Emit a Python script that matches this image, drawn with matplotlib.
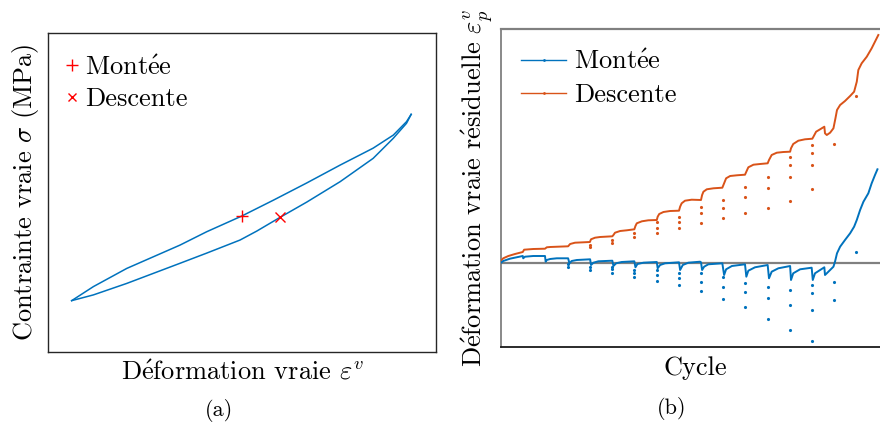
import matplotlib
matplotlib.use("Agg")
import matplotlib.pyplot as plt
from matplotlib.lines import Line2D

plt.rcParams['font.family'] = ['cmr10', 'DejaVu Serif']
plt.rcParams['mathtext.fontset'] = 'cm'
plt.rcParams['axes.formatter.use_mathtext'] = True

# ---------------- (a) hysteresis loop (arbitrary units) ----------------
strain_up = [0.061, 0.117, 0.203, 0.340, 0.409, 0.499, 0.581, 0.667, 0.753, 0.838, 0.890, 0.924, 0.936]
stress_up = [0.161, 0.205, 0.262, 0.335, 0.377, 0.426, 0.476, 0.530, 0.586, 0.639, 0.680, 0.722, 0.745]
strain_down = [0.936, 0.924, 0.890, 0.838, 0.753, 0.667, 0.598, 0.538, 0.495, 0.409, 0.340, 0.203, 0.117, 0.061]
stress_down = [0.745, 0.717, 0.670, 0.607, 0.534, 0.470, 0.422, 0.379, 0.351, 0.310, 0.278, 0.215, 0.179, 0.161]
point_montee = (0.499, 0.426)
point_descente = (0.598, 0.422)

# ---------------- (b) residual strain vs cycle ----------------
cyc_desc = [0, 10, 33, 63, 98, 104, 145, 198, 206, 221, 302, 311, 333, 400,
            405, 423, 446, 501, 506, 513, 536, 566, 600, 605, 611, 634, 663, 701,
            705, 712, 731, 761, 801, 806, 813, 828, 858, 900, 905, 911, 926, 956, 996,
            1004, 1013, 1031, 1061, 1098, 1104, 1113, 1136, 1166, 1200, 1206, 1218, 1241,
            1271, 1301, 1305, 1315, 1338, 1368, 1401, 1406, 1418, 1436, 1455, 1458, 1466,
            1481, 1496, 1505, 1512, 1526, 1548, 1571, 1589, 1601, 1608, 1623, 1646, 1668, 1698]
eps_desc = [0.02, 0.044, 0.067, 0.087, 0.107, 0.13, 0.137, 0.14, 0.154, 0.157, 0.164, 0.187, 0.2, 0.207,
            0.234, 0.25, 0.257, 0.264, 0.277, 0.30, 0.317, 0.324, 0.334, 0.367, 0.394, 0.414, 0.424, 0.427,
            0.46, 0.487, 0.507, 0.517, 0.52, 0.56, 0.594, 0.62, 0.63, 0.627, 0.677, 0.71, 0.734, 0.744, 0.75,
            0.794, 0.844, 0.867, 0.874, 0.88, 0.91, 0.954, 0.98, 0.987, 0.994, 1.027, 1.077, 1.10,
            1.107, 1.11, 1.144, 1.187, 1.22, 1.234, 1.24, 1.26, 1.31, 1.334, 1.36, 1.294, 1.277,
            1.30, 1.344, 1.444, 1.527, 1.577, 1.617, 1.667, 1.71, 1.81, 1.927, 1.994, 2.06, 2.144, 2.277]
cyc_desc_drop = [400, 400, 501, 501, 600, 600, 701, 701, 701, 801, 801, 801, 900, 900, 900,
                 999, 999, 999, 1100, 1100, 1100, 1202, 1202, 1202, 1300, 1300, 1300, 1300,
                 1401, 1401, 1401, 1401, 1499, 1598]
eps_desc_drop = [0.177, 0.16, 0.227, 0.194, 0.294, 0.254, 0.41, 0.344, 0.294, 0.46, 0.41, 0.344,
                 0.56, 0.494, 0.40, 0.627, 0.544, 0.45, 0.76, 0.66, 0.50, 0.86, 0.744, 0.55,
                 1.06, 0.977, 0.86, 0.62, 1.177, 1.094, 0.977, 0.737, 1.187, 1.667]

cyc_mont = [0, 10, 40, 70, 98, 100, 108, 145, 198, 201, 206, 221, 251, 302,
            308, 318, 341, 401, 405, 416, 438, 501, 506, 518, 543, 600,
            605, 614, 641, 701, 705, 716, 738, 801, 806, 818, 843, 896, 900,
            905, 914, 933, 996, 1004, 1013, 1039, 1098, 1104, 1113, 1143, 1200,
            1206, 1218, 1248, 1301, 1305, 1315, 1346, 1398, 1403, 1413, 1436, 1455,
            1458, 1466, 1481, 1496, 1503, 1512, 1526, 1548, 1571, 1589, 1601, 1616,
            1631, 1653, 1668, 1683, 1694]
eps_mont = [0.0, 0.017, 0.04, 0.054, 0.067, 0.044, 0.06, 0.067, 0.067, 0.01, 0.027, 0.037, 0.044, 0.044,
            -0.006, 0.017, 0.027, 0.034, -0.023, 0.0, 0.014, 0.02, -0.033, -0.006, 0.007, 0.014,
            -0.046, -0.013, 0.0, 0.007, -0.056, -0.023, -0.006, 0.004, -0.073, -0.023, 0.0, 0.01, 0.004,
            -0.073, -0.04, -0.016, -0.006, -0.123, -0.066, -0.033, -0.016, -0.14, -0.08, -0.046, -0.023,
            -0.156, -0.09, -0.056, -0.033, -0.173, -0.106, -0.066, -0.05, -0.173, -0.106, -0.073, -0.046,
            -0.123, -0.106, -0.073, -0.04, 0.01, 0.094, 0.16, 0.227, 0.294, 0.36, 0.427, 0.527,
            0.61, 0.694, 0.794, 0.877, 0.934]
cyc_mont_drop = [302, 302, 401, 401, 501, 501, 501, 600, 600, 600, 701, 701, 701, 801, 801, 801,
                 900, 900, 900, 999, 999, 999, 1100, 1100, 1100, 1200, 1200, 1200,
                 1301, 1301, 1301, 1398, 1398, 1398, 1398, 1499, 1499, 1598]
eps_mont_drop = [-0.04, -0.016, -0.073, -0.04, -0.106, -0.066, -0.04, -0.146, -0.106, -0.073,
                 -0.183, -0.123, -0.073, -0.223, -0.156, -0.106, -0.106, -0.19, -0.28,
                 -0.14, -0.24, -0.366, -0.206, -0.29, -0.446, -0.24, -0.356, -0.563,
                 -0.273, -0.423, -0.673, -0.223, -0.306, -0.473, -0.783, -0.19, -0.373, 0.11]

labels_legend = [r'Mont$\acute{\mathrm{e}}$e', 'Descente']

blue = '#0072BD'
orange = '#D95319'

fig = plt.figure(figsize=(8.8, 4.25), dpi=100)
FS = 19

# ----- panel (a)
ax1 = fig.add_axes([48/880, 1-352/425, 388/880, 319/425])
ax1.plot(strain_up, stress_up, color=blue, lw=1.1)
ax1.plot(strain_down, stress_down, color=blue, lw=1.1)
ax1.plot(*point_montee, ls='none', marker='+', color='red', ms=9, mew=1.0)
ax1.plot(*point_descente, ls='none', marker='x', color='red', ms=6.5, mew=1.0)
ax1.set_xlim(0, 1)
ax1.set_ylim(0, 1)
ax1.set_xticks([])
ax1.set_yticks([])
for s in ax1.spines.values():
    s.set_color('#262626')
    s.set_linewidth(1.0)
ax1.set_xlabel(r'D$\acute{\mathrm{e}}$formation vraie $\varepsilon^v$', fontsize=FS, labelpad=6)
ax1.set_ylabel(r'Contrainte vraie $\sigma$ (MPa)', fontsize=FS, labelpad=5)
h1 = [Line2D([], [], ls='none', marker='+', color='red', ms=8, mew=1.0),
      Line2D([], [], ls='none', marker='x', color='red', ms=5.5, mew=1.0)]
ax1.legend(h1, labels_legend, loc='upper left', bbox_to_anchor=(0.042, 0.93),
           frameon=False, fontsize=FS, handlelength=0.6, handletextpad=0.2,
           labelspacing=0.3, borderpad=0, borderaxespad=0)

# ----- panel (b)
ax2 = fig.add_axes([501/880, 1-347/425, 388/880, 318/425])
ax2.axhline(0, color='#808080', lw=1.6, zorder=1)
ax2.plot(cyc_desc, eps_desc, color=orange, lw=1.4, zorder=3)
ax2.plot(cyc_desc_drop, eps_desc_drop, ls='none', marker='.', ms=2.5, color=orange, zorder=3)
ax2.plot(cyc_mont, eps_mont, color=blue, lw=1.4, zorder=3)
ax2.plot(cyc_mont_drop, eps_mont_drop, ls='none', marker='.', ms=2.5, color=blue, zorder=3)
ax2.set_xlim(0, 1746)
ax2.set_ylim(-0.843, 2.337)
ax2.set_xticks([])
ax2.set_yticks([])
ax2.spines['left'].set_color('#808080')
ax2.spines['top'].set_color('#808080')
ax2.spines['top'].set_linewidth(1.6)
ax2.spines['left'].set_linewidth(1.3)
ax2.spines['bottom'].set_color('#1a1a1a')
ax2.spines['bottom'].set_linewidth(1.3)
ax2.spines['right'].set_visible(False)
ax2.set_xlabel('Cycle', fontsize=FS, labelpad=7)
ax2.set_ylabel(r'D$\acute{\mathrm{e}}$formation vraie r$\acute{\mathrm{e}}$siduelle $\varepsilon_p^v$',
               fontsize=FS, labelpad=4)
h2 = [Line2D([], [], color=blue, lw=1.0, marker='.', ms=2),
      Line2D([], [], color=orange, lw=1.0, marker='.', ms=2)]
ax2.legend(h2, labels_legend, loc='upper left', bbox_to_anchor=(0.052, 0.935),
           frameon=False, fontsize=FS, handlelength=1.7, handletextpad=0.3, numpoints=1,
           labelspacing=0.35, borderpad=0, borderaxespad=0)

fig.text(219/880, 1-411/425, '(a)', fontsize=16, ha='center', va='center')
fig.text(672/880, 1-409/425, '(b)', fontsize=16, ha='center', va='center')

fig.savefig('out.png', dpi=100)
